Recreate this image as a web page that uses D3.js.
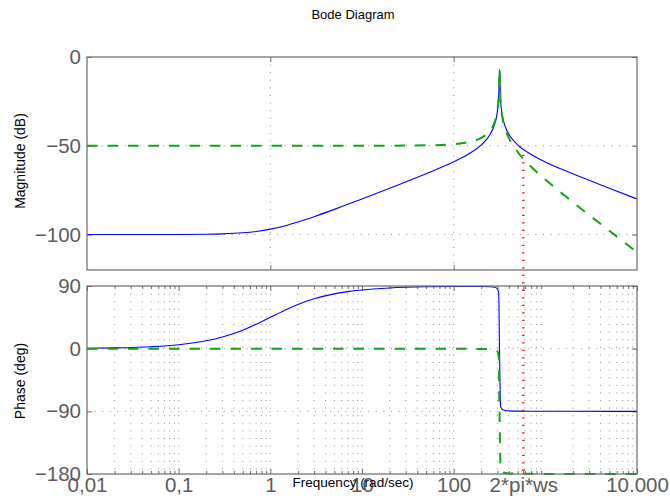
<!DOCTYPE html>
<html>
<head>
<meta charset="utf-8">
<script src="https://cdn.jsdelivr.net/npm/d3@7"></script>
<style>
  body { margin: 0; background: #fff; }
  svg { display: block; font-family: "Liberation Sans", Arial, Helvetica, sans-serif; }
</style>
</head>
<body>
<svg id="chart" width="670" height="503"></svg>
<script>
// Frequency samples (rad/sec) shared by all four responses
const freq = [0.01, 0.02, 0.05, 0.1, 0.2, 0.3, 0.5, 0.7, 1, 1.5, 2, 3, 5, 7, 10, 20, 50,
  100, 150, 200, 250, 280, 300, 310, 316.2, 325, 340, 370, 400, 500, 700, 1000, 2000, 5000, 10000];

// Magnitude (dB)
const blueMag = [-100, -100, -99.99, -99.96, -99.83, -99.62, -99.03, -98.27, -96.99, -94.88,
  -93.01, -90.0, -85.85, -82.97, -79.95, -73.94, -65.8, -59.08, -54.27, -49.54, -43.52,
  -37.75, -30.46, -22.0, -7, -24.8, -33.2, -40.0, -43.52, -49.5, -54.9, -59.1, -65.8, -73.9, -80];
const greenMag = [-50, -50, -50, -50, -50, -50, -50, -50, -50, -50, -50, -50, -50, -50, -50,
  -49.97, -49.78, -49.08, -47.79, -45.56, -41.48, -36.69, -30.0, -21.82, -7, -25.0, -33.86,
  -41.34, -45.56, -53.52, -61.82, -69.08, -81.82, -97.92, -110];

// Phase (deg)
const bluePhase = [0.57, 1.15, 2.86, 5.71, 11.31, 16.7, 26.57, 34.99, 45, 56.31, 63.43, 71.57,
  78.69, 81.87, 84.29, 87.14, 88.85, 89.29, 89.37, 89.29, 88.92, 88.16, 86.0, 79.8, 0,
  -82.9, -87.4, -88.9, -89.3, -89.7, -89.85, -89.9, -89.97, -90, -90];
const greenPhase = [0, 0, 0, 0, 0, 0, 0, 0, 0, 0, 0, 0, 0, 0, -0.01, -0.03, -0.06, -0.14,
  -0.25, -0.42, -0.85, -1.64, -3.8, -10, -90, -172.7, -177.2, -178.7, -179.15, -179.6,
  -179.8, -179.9, -179.97, -180, -180];

// Tick values and labels
const xTickValues = [0.01, 0.1, 1, 10, 100, 575, 10000];
const xTickLabels = ["0,01", "0,1", "1", "10", "100", "2*pi*ws", "10.000"];
const magXTicks = [1, 100];
const magTicks = [0, -50, -100];
const magTickLabels = ["0", "\u221250", "\u2212100"];
const phaseTicks = [90, 0, -90, -180];
const phaseTickLabels = ["90", "0", "\u221290", "\u2212180"];

// Sampling-frequency marker
const wsFreq = 575;
const wsMagTop = -55;
const wsPhaseBottom = -181;

const svg = d3.select("#chart");
const left = 87, right = 637;
const x = d3.scaleLog().domain([0.01, 10000]).range([left, right]);
const yMag = d3.scaleLinear().domain([-120, 0]).range([270, 57]);
const yPh = d3.scaleLinear().domain([-180, 90]).range([474, 286]);

// minor log positions 2..9 per decade
const minorX = [];
for (let k = -2; k <= 3; k++) for (let m = 2; m <= 9; m++) minorX.push(m * Math.pow(10, k));

const axisColor = "#6a6a6a";
const labelColor = "#5c5c5c";
const gridColor = "#8f8f8f";

function dottedGrid(g, cls, vals, vertical, scale, y0, y1, x0, x1) {
  g.selectAll("line." + cls).data(vals).join("line")
    .attr("class", cls)
    .attr("x1", d => vertical ? scale(d) : x0)
    .attr("x2", d => vertical ? scale(d) : x1)
    .attr("y1", d => vertical ? y0 : scale(d))
    .attr("y2", d => vertical ? y1 : scale(d))
    .attr("stroke", gridColor)
    .attr("stroke-width", 1)
    .attr("stroke-dasharray", "1,6.6");
}

function styleAxis(g, withText) {
  g.select(".domain").remove();
  g.selectAll(".tick line").attr("stroke", axisColor).attr("stroke-width", 1);
  if (withText) {
    g.selectAll(".tick text").attr("fill", labelColor).attr("font-size", "20.5px")
      .attr("font-family", "Liberation Sans, Arial, sans-serif");
  } else {
    g.selectAll(".tick text").remove();
  }
}

// ---------- Magnitude panel ----------
const magG = svg.append("g");
dottedGrid(magG, "vg", magXTicks, true, x, yMag(0), yMag(-120));
dottedGrid(magG, "hg", magTicks.filter(v => v !== 0), false, yMag, 0, 0, left, right);

magG.append("g").attr("transform", `translate(${left},0)`)
  .call(d3.axisLeft(yMag).tickValues(magTicks).tickFormat((d, i) => magTickLabels[i]).tickSize(-5).tickPadding(6))
  .call(g => styleAxis(g, true));
magG.append("g").attr("transform", `translate(${right},0)`)
  .call(d3.axisRight(yMag).tickValues(magTicks).tickSize(-5))
  .call(g => styleAxis(g, false));
magG.append("g").attr("transform", `translate(0,${yMag(-120)})`)
  .call(d3.axisBottom(x).tickValues(magXTicks).tickSize(-5))
  .call(g => styleAxis(g, false));
magG.append("g").attr("transform", `translate(0,${yMag(0)})`)
  .call(d3.axisTop(x).tickValues(magXTicks).tickSize(-5))
  .call(g => styleAxis(g, false));

const magLine = vals => d3.line().x((d, i) => x(freq[i])).y(d => yMag(d)).curve(d3.curveMonotoneX)(vals);
magG.append("path").attr("d", magLine(blueMag)).attr("fill", "none")
  .attr("stroke", "#0000ff").attr("stroke-width", 1.1);
magG.append("path").attr("d", magLine(greenMag)).attr("fill", "none")
  .attr("stroke", "#13a313").attr("stroke-width", 2).attr("stroke-dasharray", "10.5,10");

magG.append("rect").attr("x", left).attr("y", yMag(0))
  .attr("width", right - left).attr("height", yMag(-120) - yMag(0))
  .attr("fill", "none").attr("stroke", axisColor).attr("stroke-width", 1.2);

// ---------- Phase panel ----------
const phG = svg.append("g");
dottedGrid(phG, "vmin", minorX, true, x, yPh(90), yPh(-180));
dottedGrid(phG, "vmaj", xTickValues.filter(v => v !== 0.01 && v !== 10000 && v !== wsFreq), true, x, yPh(90), yPh(-180));
dottedGrid(phG, "hg", [0, -90], false, yPh, 0, 0, left, right);

phG.append("g").attr("transform", `translate(${left},0)`)
  .call(d3.axisLeft(yPh).tickValues(phaseTicks).tickFormat((d, i) => phaseTickLabels[i]).tickSize(-5).tickPadding(6))
  .call(g => styleAxis(g, true));
phG.append("g").attr("transform", `translate(${right},0)`)
  .call(d3.axisRight(yPh).tickValues(phaseTicks).tickSize(-5))
  .call(g => styleAxis(g, false));
phG.append("g").attr("transform", `translate(0,${yPh(-180)})`)
  .call(d3.axisBottom(x).tickValues(minorX).tickSize(-3))
  .call(g => styleAxis(g, false));
phG.append("g").attr("transform", `translate(0,${yPh(90)})`)
  .call(d3.axisTop(x).tickValues(minorX).tickSize(-3))
  .call(g => styleAxis(g, false));
phG.append("g").attr("transform", `translate(0,${yPh(90)})`)
  .call(d3.axisTop(x).tickValues(xTickValues).tickSize(-5))
  .call(g => styleAxis(g, false));
phG.append("g").attr("transform", `translate(0,${yPh(-180)})`)
  .call(d3.axisBottom(x).tickValues(xTickValues).tickFormat((d, i) => xTickLabels[i]).tickSize(-5).tickPadding(3))
  .call(g => styleAxis(g, true));

const phLine = vals => d3.line().x((d, i) => x(freq[i])).y(d => yPh(d)).curve(d3.curveMonotoneX)(vals);
phG.append("path").attr("d", phLine(bluePhase)).attr("fill", "none")
  .attr("stroke", "#0000ff").attr("stroke-width", 1.1);
phG.append("path").attr("d", phLine(greenPhase)).attr("fill", "none")
  .attr("stroke", "#13a313").attr("stroke-width", 2).attr("stroke-dasharray", "10.5,10");

phG.append("rect").attr("x", left).attr("y", yPh(90))
  .attr("width", right - left).attr("height", yPh(-180) - yPh(90))
  .attr("fill", "none").attr("stroke", axisColor).attr("stroke-width", 1.2);

// ---------- Sampling-frequency marker across both panels ----------
svg.append("line")
  .attr("x1", x(wsFreq)).attr("x2", x(wsFreq))
  .attr("y1", yMag(wsMagTop)).attr("y2", yPh(wsPhaseBottom))
  .attr("stroke", "#ff1a1a").attr("stroke-width", 2.6).attr("stroke-dasharray", "1.4,6.1");

// ---------- Titles ----------
svg.append("text").attr("x", 353).attr("y", 19).attr("text-anchor", "middle")
  .attr("font-size", "13px").attr("fill", "#000").text("Bode Diagram");
svg.append("text").attr("transform", "translate(24.5,161) rotate(-90)").attr("text-anchor", "middle")
  .attr("font-size", "14px").attr("fill", "#000").text("Magnitude (dB)");
svg.append("text").attr("transform", "translate(24.5,381) rotate(-90)").attr("text-anchor", "middle")
  .attr("font-size", "14px").attr("fill", "#000").text("Phase (deg)");
svg.append("text").attr("x", 353).attr("y", 487).attr("text-anchor", "middle")
  .attr("font-size", "13.5px").attr("fill", "#000").text("Frequency (rad/sec)");
</script>
</body>
</html>
